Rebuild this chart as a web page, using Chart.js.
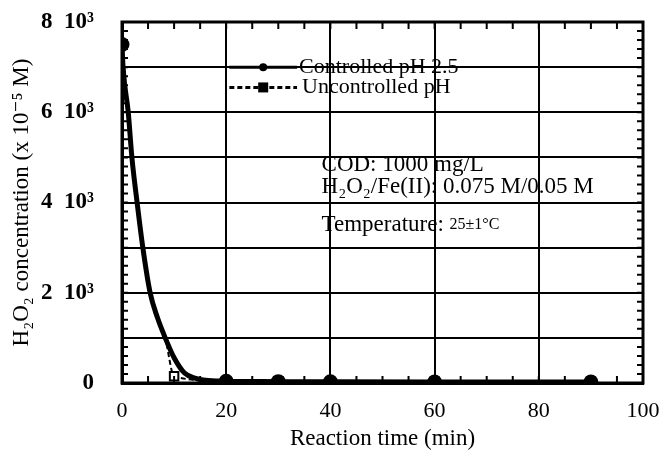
<!DOCTYPE html>
<html>
<head>
<meta charset="utf-8">
<script src="https://cdn.jsdelivr.net/npm/chart.js@4/dist/chart.umd.min.js"></script>
<style>
  html, body { margin: 0; padding: 0; background: #fff; }
  #wrap { width: 659px; height: 458px; }
</style>
</head>
<body>
<div id="wrap"><canvas id="c" width="659" height="458"></canvas></div>
<script>
// data
var controlledTime = [0, 0.2, 1.2, 1.9, 2.9, 4.0, 5.4, 6.8, 8.3, 10, 12, 14, 16, 20, 30, 40, 60, 90];
var controlledH2O2 = [7500, 7000, 6000, 5000, 4000, 3000, 2000, 1450, 1000, 560, 220, 110, 60, 40, 30, 25, 20, 20];
var controlledMarked = [0, 20, 30, 40, 60, 90];
var uncontrolledTime = [0, 1.2, 2.9, 5.4, 8.3, 10, 20, 30, 60, 90];
var uncontrolledH2O2 = [7500, 6000, 4000, 2000, 1000, 150, 40, 40, 30, 30];
var uncontrolledMarked = [0, 10, 30, 60, 90];
var xTicks = [0, 20, 40, 60, 80, 100];
var yTickLabels = { 0: "0", 2000: "2  10\u00b3", 4000: "4  10\u00b3", 6000: "6  10\u00b3", 8000: "8  10\u00b3" };
var notes = ["COD: 1000 mg/L", "H\u2082O\u2082/Fe(II): 0.075 M/0.05 M"];

var serif = "'Liberation Serif', 'DejaVu Serif', serif";

function pts(xs, ys) {
  return xs.map(function (x, i) { return { x: x, y: ys[i] }; });
}

// minor ticks pointing inward on all four sides + legend and notes
var extras = {
  id: "extras",
  afterDraw: function (chart) {
    var ctx = chart.ctx, a = chart.chartArea;
    var xs = chart.scales.x, ys = chart.scales.y;
    ctx.save();
    ctx.strokeStyle = "#000";
    ctx.lineWidth = 2;
    ctx.beginPath();
    for (var v = 200; v < 8000; v += 200) {
      var py = ys.getPixelForValue(v);
      ctx.moveTo(a.left, py); ctx.lineTo(a.left + 6, py);
      ctx.moveTo(a.right, py); ctx.lineTo(a.right - 6, py);
    }
    for (var t = 5; t < 100; t += 5) {
      var px = xs.getPixelForValue(t);
      ctx.moveTo(px, a.top); ctx.lineTo(px, a.top + 7);
      ctx.moveTo(px, a.bottom); ctx.lineTo(px, a.bottom - 7);
    }
    ctx.stroke();

    // legend
    var lx0 = xs.getPixelForValue(20.6), lx1 = xs.getPixelForValue(33.6);
    var lxm = (lx0 + lx1) / 2;
    var ly1 = ys.getPixelForValue(7000), ly2 = ys.getPixelForValue(6550);
    ctx.lineWidth = 3;
    ctx.fillStyle = "#000";
    ctx.beginPath(); ctx.moveTo(lx0, ly1); ctx.lineTo(lx1, ly1); ctx.stroke();
    ctx.beginPath(); ctx.arc(lxm, ly1, 4, 0, Math.PI * 2); ctx.fill();
    ctx.setLineDash([5, 3]);
    ctx.beginPath(); ctx.moveTo(lx0, ly2); ctx.lineTo(lx1, ly2); ctx.stroke();
    ctx.setLineDash([]);
    ctx.fillRect(lxm - 5, ly2 - 5, 10, 10);
    ctx.font = "22px " + serif;
    ctx.textBaseline = "middle";
    ctx.fillText("Controlled pH 2.5", lx1 + 2, ly1);
    ctx.fillText("Uncontrolled pH", lx1 + 5, ly2);

    // condition notes
    var nx = xs.getPixelForValue(38.3);
    ctx.font = "23px " + serif;
    ctx.fillText(notes[0], nx, ys.getPixelForValue(4840));
    ctx.fillText(notes[1], nx, ys.getPixelForValue(4350));
    var ty = ys.getPixelForValue(3500);
    ctx.fillText("Temperature: ", nx, ty);
    var w = ctx.measureText("Temperature: ").width;
    ctx.font = "16px " + serif;
    ctx.fillText("25\u00b11\u00b0C", nx + w, ty);
    ctx.restore();
  }
};

new Chart(document.getElementById("c"), {
  type: "line",
  data: {
    datasets: [
      {
        label: "Controlled pH 2.5",
        data: pts(controlledTime, controlledH2O2),
        borderColor: "#000",
        backgroundColor: "#000",
        borderWidth: 5,
        cubicInterpolationMode: "monotone",
        pointStyle: "circle",
        pointRadius: controlledTime.map(function (t) { return controlledMarked.indexOf(t) >= 0 ? 5 : 0; }),
        order: 1
      },
      {
        label: "Uncontrolled pH",
        data: pts(uncontrolledTime, uncontrolledH2O2),
        borderColor: "#000",
        backgroundColor: uncontrolledTime.map(function (t) { return t === 10 ? "#fff" : "#000"; }),
        borderWidth: 2,
        borderDash: [5, 3],
        cubicInterpolationMode: "monotone",
        pointStyle: "rect",
        pointRadius: uncontrolledTime.map(function (t) { return uncontrolledMarked.indexOf(t) >= 0 ? 6 : 0; }),
        pointBorderWidth: 2,
        order: 0
      }
    ]
  },
  options: {
    responsive: false,
    animation: false,
    events: [],
    layout: { padding: { left: 0, top: 22, right: 16, bottom: 0 } },
    plugins: { legend: { display: false }, tooltip: { enabled: false } },
    scales: {
      x: {
        type: "linear",
        min: 0, max: 100,
        afterBuildTicks: function (s) { s.ticks = xTicks.map(function (v) { return { value: v }; }); },
        afterFit: function (s) { s.height = 75; s.paddingLeft = 0; s.paddingRight = 0; },
        grid: { color: "#000", lineWidth: 2, drawTicks: false },
        border: { color: "#000", width: 3 },
        ticks: { color: "#000", padding: 15, maxRotation: 0, font: { family: serif, size: 22 } },
        title: { display: true, text: "Reaction time (min)", color: "#000", padding: { top: 0, bottom: 5 }, font: { family: serif, size: 23 } }
      },
      y: {
        min: 0, max: 8000,
        afterFit: function (s) { s.width = 122; s.paddingTop = 0; s.paddingBottom = 0; },
        grid: { color: "#000", lineWidth: 2, drawTicks: false },
        border: { color: "#000", width: 3 },
        ticks: {
          stepSize: 1000,
          color: "#000",
          padding: 28,
          font: { family: serif, size: 23, weight: "bold" },
          callback: function (v) { return yTickLabels[v] !== undefined ? yTickLabels[v] : ""; }
        },
        title: { display: true, text: "H\u2082O\u2082 concentration (x 10\u207b\u2075 M)", color: "#000", padding: { top: 8, bottom: 0 }, font: { family: serif, size: 23 } }
      }
    }
  },
  plugins: [extras, {
    id: "frame",
    afterDraw: function (chart) {
      var ctx = chart.ctx, a = chart.chartArea;
      ctx.save();
      ctx.strokeStyle = "#000";
      ctx.lineWidth = 3;
      ctx.strokeRect(a.left, a.top, a.right - a.left, a.bottom - a.top);
      ctx.restore();
    }
  }]
});
</script>
</body>
</html>
